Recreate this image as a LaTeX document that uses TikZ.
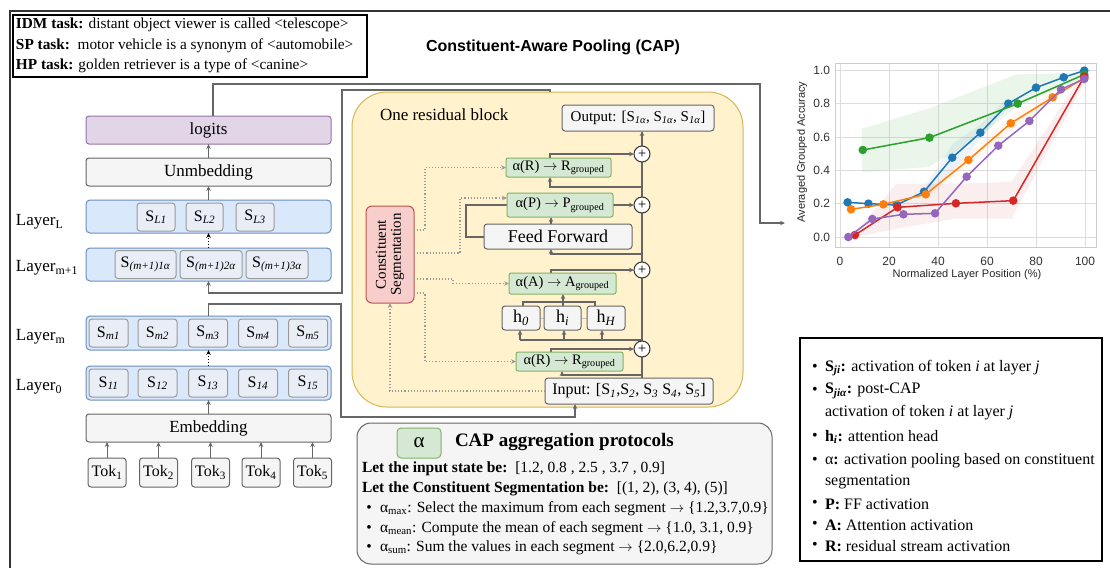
\documentclass[tikz,border=0pt]{standalone}
\usepackage{fontspec}
\setmainfont{Liberation Serif}
\newfontfamily\sansf{Liberation Sans}
\usetikzlibrary{arrows.meta,calc}
\definecolor{cgray}{HTML}{666666}
\definecolor{cgrayf}{HTML}{F5F5F5}
\definecolor{cpurf}{HTML}{E1D5E7}
\definecolor{cpur}{HTML}{9673A6}
\definecolor{cbluef}{HTML}{DAE8FC}
\definecolor{cblue}{HTML}{6C8EBF}
\definecolor{cinf}{HTML}{E8EDF6}
\definecolor{cin}{HTML}{9A9A9A}
\definecolor{cgrf}{HTML}{D5E8D4}
\definecolor{cgr}{HTML}{82B366}
\definecolor{credf}{HTML}{F8CECC}
\definecolor{cred}{HTML}{B85450}
\definecolor{cyelf}{HTML}{FFF2CC}
\definecolor{cyel}{HTML}{D6B656}
\definecolor{cdot}{HTML}{999999}
\definecolor{cgrid}{HTML}{DDDDDD}
\definecolor{cframe}{HTML}{CCCCCC}
\definecolor{tabb}{HTML}{1F77B4}
\definecolor{tabo}{HTML}{FF7F0E}
\definecolor{tabg}{HTML}{2CA02C}
\definecolor{tabr}{HTML}{D62728}
\definecolor{tabp}{HTML}{9467BD}
\begin{document}
\begin{tikzpicture}[x=1pt,y=-1pt,
  every node/.style={inner sep=0pt, outer sep=0pt},
  f11/.style={font=\sansf\fontsize{11}{13}\selectfont},
  f12/.style={font=\sansf\fontsize{12}{14}\selectfont},
  f14/.style={font=\fontsize{15.3}{18}\selectfont},
  fcap/.style={font=\fontsize{15.5}{18}\selectfont},
  f145/.style={font=\fontsize{14.5}{17}\selectfont},
  f15/.style={font=\fontsize{15}{17}\selectfont},
  f16/.style={font=\fontsize{16}{19}\selectfont},
  f17/.style={font=\fontsize{17}{20}\selectfont},
  f18/.style={font=\fontsize{18}{21}\selectfont},
  f19/.style={font=\fontsize{19}{22}\selectfont},
  f20/.style={font=\fontsize{21}{24}\selectfont},
  conn/.style={draw=cgray, line width=1.1pt},
  arr/.style={-{Stealth[length=5pt,width=4.5pt]}},
  dotconn/.style={draw=cdot, line width=1.1pt, dotted},
  graybox/.style={draw=cgray, fill=cgrayf, rounded corners=3pt, line width=1pt},
  purbox/.style={draw=cpur, fill=cpurf, rounded corners=3pt, line width=1pt},
  bluebox/.style={draw=cblue, fill=cbluef, rounded corners=4pt, line width=1pt},
  sbox/.style={draw=cin, fill=cinf, rounded corners=3pt, line width=1pt},
  greenbox/.style={draw=cgr, fill=cgrf, rounded corners=2pt, line width=1pt},
  redbox/.style={draw=cred, fill=credf, rounded corners=6pt, line width=1pt},
  plusc/.style={circle, draw=black!80, fill=white, line width=1pt, minimum size=16pt, f15},
  lbl/.style={anchor=west, fill=white, inner sep=1pt, f17}
]
\useasboundingbox (0,0) rectangle (1110,568);
\fill[white] (0,0) rectangle (1110,568);

% outer frame
\draw[draw=black!80, line width=1.3pt] (10,568) -- (10,11) -- (1110,11);

% task box
\node[draw=black, line width=1.5pt, fill=white, minimum width=354, minimum height=62] (taskbox) at (190,46) {};
\node[anchor=west, f14] (t1) at (16,25) {\textbf{IDM task:} distant object viewer is called <telescope>};
\node[anchor=west, f14] (t2) at (16,46) {\textbf{SP task:}\ \ motor vehicle is a synonym of <automobile>};
\node[anchor=west, f14] (t3) at (16,66) {\textbf{HP task:} golden retriever is a type of <canine>};

% title
\node[font=\sansf\bfseries\fontsize{16}{19}\selectfont] (title) at (553,47) {Constituent-Aware Pooling (CAP)};

% ---------------- left stack ----------------
\node[purbox, minimum width=245, minimum height=28, f17] (logits) at (208.5,130) {logits};
\node[graybox, minimum width=245, minimum height=28, f17] (unemb) at (208.5,172) {Unmbedding};
\node[bluebox, minimum width=245, minimum height=33] (layL) at (208.5,216.5) {};
\node[sbox, minimum width=38, minimum height=28, f16] (sL1) at (156,217) {S\textsubscript{\itshape L1}};
\node[sbox, minimum width=37, minimum height=28, f16] (sL2) at (204.5,217) {S\textsubscript{\itshape L2}};
\node[sbox, minimum width=38, minimum height=28, f16] (sL3) at (255,217) {S\textsubscript{\itshape L3}};
\node[bluebox, minimum width=245, minimum height=33] (layM1) at (208.5,264.5) {};
\node[sbox, minimum width=61, minimum height=28, f16] (sp1) at (145.5,264.5) {S\textsubscript{\itshape (m+1)1α}};
\node[sbox, minimum width=62, minimum height=28, f16] (sp2) at (211,264.5) {S\textsubscript{\itshape (m+1)2α}};
\node[sbox, minimum width=62, minimum height=28, f16] (sp3) at (277,264.5) {S\textsubscript{\itshape (m+1)3α}};
\node[bluebox, minimum width=245, minimum height=34] (layM) at (208.5,333) {};
\node[bluebox, minimum width=245, minimum height=34] (lay0) at (208.5,383) {};
\foreach \xx [count=\i] in {108.5,157.5,208,258,308} {
  \node[sbox, minimum width=39, minimum height=28, f16] (sm\i) at (\xx,333) {S\textsubscript{\itshape m\i}};
  \node[sbox, minimum width=39, minimum height=28, f16] (so\i) at (\xx,383) {S\textsubscript{\itshape 1\i}};
}
\node[graybox, minimum width=245, minimum height=28, f17] (emb) at (208.5,428) {Embedding};
\foreach \xx [count=\i] in {107,158.5,210.5,261,312.5} {
  \node[graybox, minimum width=38, minimum height=29, f16] (tok\i) at (\xx,472.5) {Tok\textsubscript{\i}};
  \draw[conn, arr, line width=0.9pt] (tok\i.north) -- (tok\i.north |- emb.south);
}
\node[lbl] (lL) at (15,222) {Layer\textsubscript{L}};
\node[lbl] (lM1) at (15,268) {Layer\textsubscript{m+1}};
\node[lbl] (lM) at (15,337) {Layer\textsubscript{m}};
\node[lbl] (l0) at (15,387) {Layer\textsubscript{0}};

\draw[conn, arr, line width=0.9pt] (unemb.north) -- (logits.south);
\draw[conn, arr, line width=0.9pt] (layL.north) -- (unemb.south);
\draw[black, dotted, line width=1pt, arr] (layM1.north) -- (layL.south);
\draw[black, dotted, line width=1pt, arr] (lay0.north) -- (layM.south);
\draw[conn, arr, line width=0.9pt] (emb.north) -- (lay0.south);

% ---------------- residual block ----------------
\node[draw=cyel, fill=cyelf, line width=1pt, rounded corners=35pt, minimum width=391, minimum height=315] (block) at (547.5,249.5) {};
\node[anchor=west, f17] (blocklbl) at (380,115) {One residual block};

% long connectors
\coordinate (chartin) at (785,223);
\draw[conn, arr] ([xshift=4.5pt]logits.north) |- (760,84) |- (chartin);
\draw[conn, arr] (layM.north) |- (341,304) |- (575,417) -- (575,0 |- 545,404);
\draw[conn, arr] (550,92) -- (550,90) -- (342,90) -- (342,293) -| (layM1.south);

% main residual line
\draw[conn, arr] (642,378) -- (642,131);

% inner branch lines (drawn before boxes)
\draw[conn, arr] (642,187) -| (550,177);
\draw[conn, arr] (550,158) |- (634,154);
\draw[conn, arr] (642,254) -| (551,249);
\draw[conn, arr] (551,224) -- (551,217);
\draw[conn, arr] (613,205) -- (634,205);
\draw[conn] (484,237) -| (466,205) -- (507,205);
\draw[conn, arr] (551,273) |- (634,270);
\draw[draw=cdot!60, line width=1pt] (521,318) -- (606,318);
\draw[conn] (523,306) -- (523,302) -- (595,302) -- (595,306);
\draw[conn] (563,306) -- (563,302);
\draw[conn, arr] (563,302) -- (563,294);
\draw[conn] (520,340) -- (642,340);
\draw[conn, arr] (520,340) -- (520,330);
\draw[conn, arr] (564,340) -- (564,330);
\draw[conn, arr] (602,340) -- (602,330);
\draw[conn, arr] (642,375) -| (562,371);
\draw[conn, arr] (551,352) |- (634,349);

% boxes
\node[graybox, minimum width=152, minimum height=26, f15] (output) at (638,118) {Output: [S\textsubscript{\itshape 1α}, S\textsubscript{\itshape 1α}, S\textsubscript{\itshape 1α}]};
\node[greenbox, minimum width=105, minimum height=19, f145] (gR1) at (558.5,167.5) {α(R) $\rightarrow$ R\textsubscript{grouped}};
\node[greenbox, minimum width=106, minimum height=24, f145] (gP) at (560,205) {α(P) $\rightarrow$ P\textsubscript{grouped}};
\node[graybox, minimum width=148, minimum height=25, f18] (ff) at (558,236.5) {Feed Forward};
\node[greenbox, minimum width=107, minimum height=21, f145] (gA) at (562.5,283.5) {α(A) $\rightarrow$ A\textsubscript{grouped}};
\node[graybox, minimum width=38, minimum height=24, f18] (h0) at (521,318) {h\textsubscript{\itshape 0}};
\node[graybox, minimum width=37, minimum height=24, f18] (hi) at (562.5,318) {h\textsubscript{\itshape i}};
\node[graybox, minimum width=38, minimum height=24, f18] (hH) at (606,318) {h\textsubscript{\itshape H}};
\node[greenbox, minimum width=107, minimum height=19, f145] (gR2) at (569.5,361.5) {α(R) $\rightarrow$ R\textsubscript{grouped}};
\node[graybox, minimum width=168, minimum height=26, f16] (input) at (629,391) {Input: [S\textsubscript{\itshape 1},S\textsubscript{\itshape 2}, S\textsubscript{\itshape 3} S\textsubscript{\itshape 4}, S\textsubscript{\itshape 5}]};
\node[plusc] (p1) at (642,154) {+};
\node[plusc] (p2) at (642,205) {+};
\node[plusc] (p3) at (642,270) {+};
\node[plusc] (p4) at (642,349) {+};

\node[redbox, minimum width=48, minimum height=97] (cs) at (390,254.5) {};
\node[rotate=90, align=center, f15] (cstext) at (cs.center) {Constituent\\[-2pt]Segmentation};

% dotted connectors from segmentation
\draw[dotconn, arr] (cs.east |- 0,230) -| (425,167.5) -- (gR1.west);
\draw[dotconn, arr] (cs.east |- 0,253) -| (460,198) -- (gP.west |- 0,198);
\draw[dotconn, arr] (cs.east |- 0,279) -| (453,283.5) -- (gA.west);
\draw[dotconn, arr] (cs.east |- 0,293) -| (425,361.5) -- (gR2.west);
\draw[dotconn, arr] (input.west) -| (cs.south);

% ---------------- CAP aggregation box ----------------
\node[draw=cgray, fill=cgrayf, line width=1pt, rounded corners=14pt, minimum width=415, minimum height=141] (capbox) at (564.5,493.5) {};
\node[greenbox, rounded corners=4pt, minimum width=44, minimum height=30, f20] (abox) at (419,443) {α};
\node[anchor=west, f19] (captitle) at (455,442) {\textbf{CAP aggregation protocols}};
\node[anchor=west, fcap] (c1) at (362,469) {\textbf{Let the input state be:}\ \ [1.2, 0.8 , 2.5 , 3.7 , 0.9]};
\node[anchor=west, fcap] (c2) at (362,489) {\textbf{Let the Constituent Segmentation be:}\ \ [(1, 2), (3, 4), (5)]};
\node[fcap] (b1) at (369,509) {•};
\node[fcap] (b2) at (369,529) {•};
\node[fcap] (b3) at (369,548) {•};
\node[anchor=west, fcap] (c3) at (380,509) {α\textsubscript{max}: Select the maximum from each segment $\rightarrow$ \{1.2,3.7,0.9\}};
\node[anchor=west, fcap] (c4) at (380,529) {α\textsubscript{mean}: Compute the mean of each segment $\rightarrow$ \{1.0, 3.1, 0.9\}};
\node[anchor=west, fcap] (c5) at (380,548) {α\textsubscript{sum}: Sum the values in each segment $\rightarrow$ \{2.0,6.2,0.9\}};

% ---------------- legend ----------------
\node[draw=black, line width=1.2pt, minimum width=302, minimum height=223] (legend) at (951,449.5) {};
\foreach \yy [count=\i] in {368,391,437,461,504,525,546} {
  \node[f16] (lb\i) at (815,\yy) {•};
}
\node[anchor=west, f16] (g1) at (825,368) {\textbf{S\textsubscript{\itshape ji}:} activation of token \textit{i} at layer \textit{j}};
\node[anchor=west, f16] (g2) at (825,391) {\textbf{S\textsubscript{\itshape jiα}:} post-CAP};
\node[anchor=west, f16] (g3) at (825,413) {activation of token \textit{i} at layer \textit{j}};
\node[anchor=west, f16] (g4) at (825,437) {\textbf{h\textsubscript{\itshape i}:} attention head};
\node[anchor=west, f16] (g5) at (825,461) {α\textbf{:} activation pooling based on constituent};
\node[anchor=west, f16] (g6) at (825,482) {segmentation};
\node[anchor=west, f16] (g7) at (825,504) {\textbf{P:} FF activation};
\node[anchor=west, f16] (g8) at (825,525) {\textbf{A:} Attention activation};
\node[anchor=west, f16] (g9) at (825,546) {\textbf{R:} residual stream activation};

% ---------------- chart ----------------
\begin{scope}[shift={(840,237)},x=2.45pt,y=166.7pt]
  \foreach \v in {0,20,40,60,80,100} \draw[draw=cgrid, line width=0.9pt] (\v,-0.06) -- (\v,1.044);
  \foreach \v in {0,0.2,0.4,0.6,0.8,1.0} \draw[draw=cgrid, line width=0.9pt] (-2.04,\v) -- (104.5,\v);
  \draw[draw=cframe, line width=0.9pt] (-2.04,-0.06) rectangle (104.5,1.044);
  % bands
  \fill[tabg, opacity=0.09] (9,0.39) -- (36,0.42) -- (55,0.58) -- (72,0.78) -- (100,0.96) -- (100,0.985) -- (72,0.975) -- (36,0.77) -- (9,0.65) -- cycle;
  \fill[tabr, opacity=0.08] (6,0.0) -- (23,0.05) -- (47,0.11) -- (70,0.11) -- (100,0.93) -- (100,1.0) -- (70,0.33) -- (47,0.32) -- (23,0.32) -- (6,0.02) -- cycle;
  \fill[tabb, opacity=0.08] (35,0.24) -- (46,0.40) -- (57,0.58) -- (68,0.77) -- (68,0.83) -- (57,0.67) -- (46,0.56) -- (35,0.31) -- cycle;
  \fill[tabo, opacity=0.06] (35,0.23) -- (52,0.42) -- (70,0.64) -- (87,0.81) -- (87,0.87) -- (70,0.73) -- (52,0.50) -- (35,0.28) -- cycle;
  % series
  \draw[tabb, line width=1.5pt] plot coordinates {(3.1,0.208) (11.6,0.2) (23.1,0.192) (34.3,0.272) (45.8,0.476) (57.3,0.626) (68.7,0.8) (80,0.896) (91.3,0.958) (99.7,0.998)};
  \foreach \p in {(3.1,0.208),(11.6,0.2),(23.1,0.192),(34.3,0.272),(45.8,0.476),(57.3,0.626),(68.7,0.8),(80,0.896),(91.3,0.958),(99.7,0.998)} \fill[tabb] \p circle[radius=4.3pt];
  \draw[tabo, line width=1.5pt] plot coordinates {(4.5,0.166) (17.7,0.196) (35,0.256) (52.4,0.462) (69.7,0.682) (86.8,0.838) (99.7,0.955)};
  \foreach \p in {(4.5,0.166),(17.7,0.196),(35,0.256),(52.4,0.462),(69.7,0.682),(86.8,0.838),(99.7,0.955)} \fill[tabo] \p circle[radius=4.3pt];
  \draw[tabg, line width=1.5pt] plot coordinates {(9.3,0.522) (36.5,0.596) (72.5,0.8) (99.7,0.975)};
  \foreach \p in {(9.3,0.522),(36.5,0.596),(72.5,0.8),(99.7,0.975)} \fill[tabg] \p circle[radius=4.3pt];
  \draw[tabr, line width=1.5pt] plot coordinates {(6.1,0.012) (23.5,0.178) (47.3,0.202) (70.7,0.218) (99.7,0.962)};
  \foreach \p in {(6.1,0.012),(23.5,0.178),(47.3,0.202),(70.7,0.218),(99.7,0.962)} \fill[tabr] \p circle[radius=4.3pt];
  \draw[tabp, line width=1.5pt] plot coordinates {(3.4,0.0) (13.2,0.108) (25.9,0.136) (38.8,0.142) (51.7,0.362) (64.6,0.548) (77.3,0.696) (90.2,0.886) (99.7,0.948)};
  \foreach \p in {(3.4,0.0),(13.2,0.108),(25.9,0.136),(38.8,0.142),(51.7,0.362),(64.6,0.548),(77.3,0.696),(90.2,0.886),(99.7,0.948)} \fill[tabp] \p circle[radius=4.3pt];
\end{scope}
\foreach \v [count=\i] in {0,20,40,60,80,100} \node[f12, text=black!80] (xt\i) at ({840+2.45*\v},261) {\v};
\foreach \v/\l [count=\i] in {0/0.0,0.2/0.2,0.4/0.4,0.6/0.6,0.8/0.8,1.0/1.0} \node[f12, anchor=east, text=black!80] (yt\i) at (830,{237-166.7*\v}) {\l};
\node[f11, rotate=90, text=black!85] (ylab) at (802,152) {Averaged Grouped Accuracy};
\node[f11, text=black!85] (xlab) at (967,275) {Normalized Layer Position (\%)};
\end{tikzpicture}
\end{document}
